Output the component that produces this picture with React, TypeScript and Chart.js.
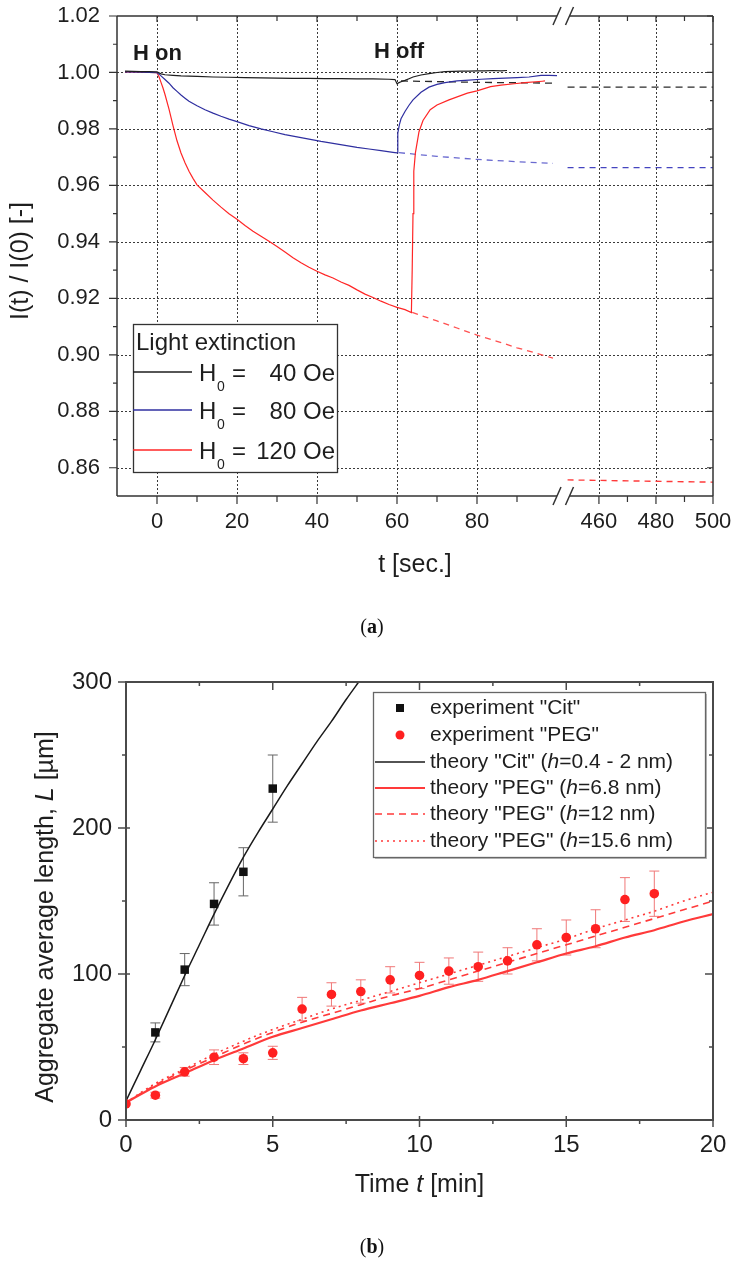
import React, { useEffect, useRef } from "react";
import { Chart, registerables } from "chart.js";

Chart.register(...registerables);

const SANS = '"Liberation Sans", Arial, Helvetica, sans-serif';
const SERIF = '"Liberation Serif", "Times New Roman", serif';

// ================= Panel (a): light extinction =================
const A_Y_TICKS = [0.86, 0.88, 0.9, 0.92, 0.94, 0.96, 0.98, 1.0, 1.02];
const A_Y_MINOR = [0.87, 0.89, 0.91, 0.93, 0.95, 0.97, 0.99, 1.01];
const A_X1_TICKS = [0, 20, 40, 60, 80];
const A_X1_MINOR = [10, 30, 50, 70, 90];
const A_X2_TICKS = [460, 480, 500];
const A_X2_MINOR = [470, 490];
const FIELD_LABELS = ["40 Oe", "80 Oe", "120 Oe"];
const ANNOT_TEXT = ["H on", "H off"];
const ANNOT_T = [-6, 54.25];
const ANNOT_V = [1.0044, 1.0051];

// H0 = 40 Oe (measured)
const H40_T = [-8, -6, -4, -2, 0, 1, 2, 4, 6, 8, 10, 14, 18, 22, 26, 30, 34, 38, 42, 46, 50, 54, 58, 59.5, 60, 60.5, 61, 62, 63, 64, 66, 68, 70, 72, 74, 76, 78, 80, 82, 84, 86, 87.5];
const H40_V = [1.0005, 1.0004, 1.0003, 1.0003, 1.0002, 0.9995, 0.9992, 0.999, 0.9988, 0.9987, 0.9986, 0.9984, 0.9983, 0.9982, 0.9981, 0.998, 0.9979, 0.9979, 0.9978, 0.9978, 0.9977, 0.9977, 0.9976, 0.9975, 0.996, 0.9964, 0.9967, 0.9972, 0.9978, 0.9984, 0.9991, 0.9996, 1.0, 1.0003, 1.0004, 1.0005, 1.0005, 1.0006, 1.0006, 1.0007, 1.0006, 1.0007];
// H0 = 80 Oe (measured)
const H80_T = [-8, -4, 0, 0.5, 1, 2, 3, 4, 5, 6, 7, 8, 10, 12, 14, 16, 18, 20, 23, 26, 29, 32, 35, 38, 41, 44, 47, 50, 53, 56, 59, 60, 60.2, 60.6, 61, 62, 63, 64, 66, 68, 70, 72, 75, 78, 81, 84, 87, 90, 93, 96, 98, 100];
const H80_V = [1.0002, 1.0001, 0.9999, 0.9994, 0.9988, 0.9975, 0.9962, 0.9946, 0.9933, 0.992, 0.9909, 0.9898, 0.9882, 0.9868, 0.9856, 0.9845, 0.9835, 0.9826, 0.9812, 0.98, 0.979, 0.978, 0.9772, 0.9764, 0.9756, 0.9749, 0.9742, 0.9735, 0.9729, 0.9723, 0.9717, 0.9715, 0.9785, 0.9815, 0.9836, 0.9862, 0.9884, 0.9903, 0.993, 0.9948, 0.9958, 0.9964, 0.997, 0.9973, 0.9976, 0.9978, 0.998, 0.9982, 0.9984, 0.999, 0.999, 0.9989];
// H0 = 120 Oe (measured)
const H120_T = [-8, -4, 0, 0.5, 1, 1.5, 2, 3, 4, 5, 6, 7, 8, 9, 10, 12, 14, 16, 18, 20, 22, 24, 26, 28, 30, 32, 34, 36, 38, 40, 42, 44, 46, 48, 50, 52, 54, 56, 58, 60, 62, 63.6, 63.8, 64, 64.2, 64.6, 65.5, 66.5, 68.3, 70, 73, 77.6, 80, 83.4, 86, 89.3, 92, 96.3, 97];
const H120_V = [1.0002, 1.0001, 0.9999, 0.9985, 0.9965, 0.9945, 0.9922, 0.987, 0.9812, 0.9758, 0.9715, 0.968, 0.965, 0.9625, 0.9602, 0.9575, 0.9548, 0.9523, 0.95, 0.948, 0.9458, 0.9438, 0.942, 0.9402, 0.9384, 0.9364, 0.9344, 0.9326, 0.931, 0.9296, 0.9283, 0.9272, 0.9258, 0.9246, 0.923, 0.9215, 0.9203, 0.919, 0.9178, 0.9168, 0.916, 0.915, 0.93, 0.95, 0.965, 0.9715, 0.979, 0.983, 0.9868, 0.9885, 0.9903, 0.9927, 0.9935, 0.995, 0.9955, 0.996, 0.9964, 0.9969, 0.997];
// extrapolated decay without field-off (dashed)
const H40_FIT_T = [61, 80, 100];
const H40_FIT_V = [0.997, 0.9965, 0.9962];
const H80_FIT_T = [60.5, 70, 80, 90, 99];
const H80_FIT_V = [0.9716, 0.9703, 0.9692, 0.9684, 0.9678];
const H120_FIT_T = [63.8, 70, 75, 80, 85, 90, 95, 99];
const H120_FIT_V = [0.915, 0.912, 0.9095, 0.907, 0.9048, 0.9025, 0.9005, 0.8988];
// long-time values (second axis segment)
const LONG_T = [449, 500];
const H40_LONG_V = [0.9948, 0.9948];
const H80_LONG_V = [0.9663, 0.9663];
const H120_LONG_V = [0.8557, 0.8549];

// ================= Panel (b): aggregate length =================
const B_X_TICKS = [0, 5, 10, 15, 20];
const B_X_MINOR = [2.5, 7.5, 12.5, 17.5];
const B_Y_TICKS = [0, 100, 200, 300];
const B_Y_MINOR = [50, 150, 250];

const CIT_T = [1, 2, 3, 4, 5];
const CIT_L = [60, 103, 148, 170, 227];
const CIT_ERR = [6.5, 11, 14.5, 16.5, 23];

const PEG_T = [0, 1, 2, 3, 4, 5, 6, 7, 8, 9, 10, 11, 12, 13, 14, 15, 16, 17, 18];
const PEG_L = [11, 17, 33, 43, 42, 46, 76, 86, 88, 96, 99, 102, 105, 109, 120, 125, 131, 151, 155];
const PEG_ERR = [0, 2, 3, 5, 4, 4.5, 8, 8, 8, 9, 9, 9, 10, 9, 11, 12, 13, 15, 15.5];

const CIT_TH_T = [0, 0.5, 1, 1.5, 2, 2.5, 3, 3.5, 4, 4.5, 5, 5.5, 6, 6.5, 7, 7.5, 8];
const CIT_TH_L = [13, 34, 55, 77, 99, 120, 141, 161, 180, 197, 213, 229, 244, 259, 273, 288, 302];
const PEG_TH_T = [0, 1, 2, 3, 4, 5, 6, 7, 8, 9, 10, 11, 12, 13, 14, 15, 16, 17, 18, 19, 20];
const PEG_TH68 = [12, 23, 32, 41, 49, 57, 63, 69, 75, 80, 85, 91, 96, 102, 108, 114, 119, 125, 130, 136, 141];
const PEG_TH12 = [12, 24, 34, 43, 52, 60, 67, 73, 79, 85, 90, 96, 102, 108, 114, 120, 126, 132, 138, 144, 150];
const PEG_TH156 = [12, 25, 35, 45, 54, 62, 69, 76, 82, 88, 94, 100, 106, 112, 118, 124, 131, 137, 143, 150, 156];

type Run = { t: string; i?: boolean; b?: boolean };
const LEGEND_B: Run[][] = [
  [{ t: 'experiment "Cit"' }],
  [{ t: 'experiment "PEG"' }],
  [{ t: 'theory "Cit" (' }, { t: "h", i: true }, { t: "=0.4 - 2 nm)" }],
  [{ t: 'theory "PEG" (' }, { t: "h", i: true }, { t: "=6.8 nm)" }],
  [{ t: 'theory "PEG" (' }, { t: "h", i: true }, { t: "=12 nm)" }],
  [{ t: 'theory "PEG" (' }, { t: "h", i: true }, { t: "=15.6 nm)" }],
];

const pts = (xs: number[], ys: number[]) => xs.map((x, i) => ({ x, y: ys[i] }));

function runFont(r: Run, size: number, family: string) {
  return `${r.i ? "italic " : ""}${r.b ? "bold " : ""}${size}px ${family}`;
}
function drawRuns(ctx: any, runs: Run[], x: number, y: number, size: number, family: string, align: "left" | "center") {
  let total = 0;
  const widths = runs.map((r) => {
    ctx.font = runFont(r, size, family);
    const w = ctx.measureText(r.t).width;
    total += w;
    return w;
  });
  let cx = align === "center" ? x - total / 2 : x;
  ctx.textAlign = "left";
  runs.forEach((r, k) => {
    ctx.font = runFont(r, size, family);
    ctx.fillText(r.t, cx, y);
    cx += widths[k];
  });
}
function seg(ctx: any, x0: number, y0: number, x1: number, y1: number) {
  ctx.moveTo(x0, y0);
  ctx.lineTo(x1, y1);
}

const tickFont = (size: number) => ({ family: SANS, size });

// ---------------- plugin for panel (a) ----------------
const panelAPlugin = {
  id: "panelA",
  beforeDatasetsDraw(chart: any) {
    const { ctx, chartArea: ca, scales } = chart;
    const { x1, x2, y } = scales;
    ctx.save();
    ctx.strokeStyle = "#3a3a3a";
    ctx.lineWidth = 1;
    ctx.setLineDash([2, 2]);
    ctx.beginPath();
    for (const v of A_X1_TICKS) {
      const p = Math.round(x1.getPixelForValue(v)) + 0.5;
      seg(ctx, p, ca.top, p, ca.bottom);
    }
    for (const v of A_X2_TICKS.slice(0, -1)) {
      const p = Math.round(x2.getPixelForValue(v)) + 0.5;
      seg(ctx, p, ca.top, p, ca.bottom);
    }
    for (const v of A_Y_TICKS.slice(0, -1)) {
      const p = Math.round(y.getPixelForValue(v)) + 0.5;
      seg(ctx, ca.left, p, ca.right, p);
    }
    ctx.stroke();
    ctx.restore();
  },
  afterDatasetsDraw(chart: any) {
    const { ctx, chartArea: ca, scales } = chart;
    const { x1, x2, y } = scales;
    const L = ca.left, R = ca.right, T = ca.top, B = ca.bottom;
    const bx = x1.right;
    ctx.save();
    ctx.setLineDash([]);
    ctx.strokeStyle = "#333";
    ctx.lineWidth = 1.5;
    ctx.beginPath();
    seg(ctx, L, T, bx - 6, T);
    seg(ctx, bx + 7, T, R, T);
    seg(ctx, R, T, R, B);
    seg(ctx, R, B, bx + 7, B);
    seg(ctx, bx - 6, B, L, B);
    seg(ctx, L, B, L, T);
    ctx.stroke();
    // ticks
    ctx.lineWidth = 1.2;
    ctx.beginPath();
    const xt = (sc: any, vals: number[], out: number, inn: number) => {
      for (const v of vals) {
        const p = sc.getPixelForValue(v);
        seg(ctx, p, B, p, B + out);
        seg(ctx, p, T, p, T + inn);
      }
    };
    xt(x1, A_X1_TICKS, 8, 6);
    xt(x1, A_X1_MINOR, 6, 5);
    xt(x2, A_X2_TICKS, 8, 6);
    xt(x2, A_X2_MINOR, 6, 5);
    for (const v of A_Y_TICKS) {
      const p = y.getPixelForValue(v);
      seg(ctx, L - 8, p, L, p);
      seg(ctx, R - 6, p, R, p);
    }
    for (const v of A_Y_MINOR) {
      const p = y.getPixelForValue(v);
      seg(ctx, L - 4, p, L, p);
      seg(ctx, R - 3, p, R, p);
    }
    ctx.stroke();
    // axis break marks
    ctx.lineWidth = 1.5;
    ctx.beginPath();
    for (const yy of [T, B]) {
      seg(ctx, bx - 10, yy + 9, bx - 2, yy - 9);
      seg(ctx, bx + 2.5, yy + 9, bx + 10.5, yy - 9);
    }
    ctx.stroke();

    // annotations
    ctx.fillStyle = "#1a1a1a";
    ctx.textBaseline = "alphabetic";
    ctx.textAlign = "left";
    ctx.font = `bold 22px ${SANS}`;
    ANNOT_TEXT.forEach((txt, k) => {
      ctx.fillText(txt, x1.getPixelForValue(ANNOT_T[k]), y.getPixelForValue(ANNOT_V[k]));
    });

    // legend
    const lx = 133, ly = 324, lw = 204, lh = 148;
    ctx.fillStyle = "#fff";
    ctx.fillRect(lx, ly, lw, lh);
    ctx.strokeStyle = "#333";
    ctx.lineWidth = 1.3;
    ctx.strokeRect(lx + 0.5, ly + 0.5, lw, lh);
    ctx.fillStyle = "#1e1e1e";
    ctx.font = `24px ${SANS}`;
    ctx.fillText("Light extinction", 136, 350);
    const rows = [372, 410, 450];
    for (let i = 0; i < 3; i++) {
      const ds = chart.data.datasets[i];
      ctx.strokeStyle = ds.borderColor;
      ctx.lineWidth = 1.6;
      ctx.beginPath();
      seg(ctx, lx, rows[i], 192, rows[i]);
      ctx.stroke();
      ctx.fillStyle = "#1e1e1e";
      ctx.textAlign = "left";
      ctx.font = `24px ${SANS}`;
      ctx.fillText("H", 199, rows[i] + 9);
      ctx.font = `14px ${SANS}`;
      ctx.fillText("0", 217, rows[i] + 19);
      ctx.font = `24px ${SANS}`;
      ctx.fillText("=", 232, rows[i] + 9);
      ctx.textAlign = "right";
      ctx.fillText(FIELD_LABELS[i], 335, rows[i] + 9);
    }

    // axis titles
    ctx.fillStyle = "#1e1e1e";
    ctx.textAlign = "center";
    ctx.textBaseline = "middle";
    ctx.font = `25px ${SANS}`;
    ctx.fillText("t [sec.]", (L + R) / 2, 565);
    ctx.save();
    ctx.translate(21, 261);
    ctx.rotate(-Math.PI / 2);
    ctx.fillText("I(t) / I(0) [-]", 0, 0);
    ctx.restore();

    // panel label
    ctx.fillStyle = "#111";
    drawRuns(ctx, [{ t: "(" }, { t: "a", b: true }, { t: ")" }], 372, 628, 20, SERIF, "center");
    ctx.restore();
  },
};

// ---------------- plugin for panel (b) ----------------
const panelBPlugin = {
  id: "panelB",
  beforeDatasetsDraw(chart: any) {
    const { ctx, scales } = chart;
    const { x, y } = scales;
    ctx.save();
    ctx.lineWidth = 1;
    const bars = (ts: number[], ls: number[], es: number[], color: string) => {
      ctx.strokeStyle = color;
      ctx.beginPath();
      ts.forEach((t, k) => {
        if (!es[k]) return;
        const px = x.getPixelForValue(t);
        const p0 = y.getPixelForValue(ls[k] + es[k]);
        const p1 = y.getPixelForValue(ls[k] - es[k]);
        seg(ctx, px, p0, px, p1);
        seg(ctx, px - 5, p0, px + 5, p0);
        seg(ctx, px - 5, p1, px + 5, p1);
      });
      ctx.stroke();
    };
    bars(CIT_T, CIT_L, CIT_ERR, "#666");
    bars(PEG_T, PEG_L, PEG_ERR, "#f07878");
    ctx.restore();
  },
  afterDatasetsDraw(chart: any) {
    const { ctx, chartArea: ca, scales } = chart;
    const { x, y } = scales;
    const L = ca.left, R = ca.right, T = ca.top, B = ca.bottom;
    ctx.save();
    ctx.setLineDash([]);
    ctx.strokeStyle = "#4a4a4a";
    ctx.lineWidth = 2;
    ctx.strokeRect(L, T, R - L, B - T);
    ctx.lineWidth = 1.5;
    ctx.beginPath();
    for (const v of B_X_TICKS) {
      const p = x.getPixelForValue(v);
      seg(ctx, p, B - 4, p, B + 7);
      seg(ctx, p, T, p, T + 8);
    }
    for (const v of B_X_MINOR) {
      const p = x.getPixelForValue(v);
      seg(ctx, p, B, p, B + 4);
      seg(ctx, p, T, p, T + 4);
    }
    for (const v of B_Y_TICKS) {
      const p = y.getPixelForValue(v);
      seg(ctx, L - 8, p, L + 4, p);
      seg(ctx, R - 8, p, R, p);
    }
    for (const v of B_Y_MINOR) {
      const p = y.getPixelForValue(v);
      seg(ctx, L - 4, p, L, p);
      seg(ctx, R - 4, p, R, p);
    }
    ctx.stroke();

    // legend
    const lx = 373, ly = 52, lw = 332, lh = 165;
    ctx.fillStyle = "#bdbdbd";
    ctx.fillRect(lx + 2, ly + 2, lw, lh);
    ctx.fillStyle = "#fff";
    ctx.fillRect(lx, ly, lw, lh);
    ctx.strokeStyle = "#666";
    ctx.lineWidth = 1.3;
    ctx.strokeRect(lx + 0.5, ly + 0.5, lw, lh);
    const rows = [68, 95, 122, 148, 174, 201];
    const dss = chart.data.datasets;
    // markers
    ctx.fillStyle = dss[0].backgroundColor;
    ctx.fillRect(400 - 4, rows[0] - 4, 8, 8);
    ctx.fillStyle = dss[1].backgroundColor;
    ctx.beginPath();
    ctx.arc(400, rows[1], 4.5, 0, Math.PI * 2);
    ctx.fill();
    for (let k = 2; k < 6; k++) {
      const ds = dss[k];
      ctx.strokeStyle = ds.borderColor;
      ctx.lineWidth = ds.borderWidth;
      ctx.setLineDash(ds.borderDash || []);
      ctx.beginPath();
      seg(ctx, 375, rows[k], 425, rows[k]);
      ctx.stroke();
    }
    ctx.setLineDash([]);
    ctx.fillStyle = "#1e1e1e";
    ctx.textBaseline = "middle";
    LEGEND_B.forEach((runs, k) => drawRuns(ctx, runs, 430, rows[k], 21, SANS, "left"));

    // axis titles
    drawRuns(ctx, [{ t: "Time " }, { t: "t", i: true }, { t: " [min]" }], (L + R) / 2, 545, 25, SANS, "center");
    ctx.save();
    ctx.translate(46, 277);
    ctx.rotate(-Math.PI / 2);
    drawRuns(ctx, [{ t: "Aggregate average length, " }, { t: "L", i: true }, { t: " [µm]" }], 0, 0, 25, SANS, "center");
    ctx.restore();

    ctx.fillStyle = "#111";
    drawRuns(ctx, [{ t: "(" }, { t: "b", b: true }, { t: ")" }], 372, 608, 20, SERIF, "center");
    ctx.restore();
  },
};

function configA(): any {
  const line = (data: any, color: string, axis: string, dash: number[] = [], width = 1.2) => ({
    data,
    xAxisID: axis,
    yAxisID: "y",
    borderColor: color,
    backgroundColor: color,
    borderWidth: width,
    borderDash: dash,
    pointRadius: 0,
    tension: 0,
    fill: false,
  });
  const c40 = "#1e1e1e", c80 = "#2f2fa0", c120 = "#ff2626";
  return {
    type: "line",
    data: {
      datasets: [
        { label: "H0 = " + FIELD_LABELS[0], ...line(pts(H40_T, H40_V), c40, "x1") },
        { label: "H0 = " + FIELD_LABELS[1], ...line(pts(H80_T, H80_V), c80, "x1") },
        { label: "H0 = " + FIELD_LABELS[2], ...line(pts(H120_T, H120_V), c120, "x1") },
        { label: "fit 40", ...line(pts(H40_FIT_T, H40_FIT_V), "#2a2a2a", "x1", [7, 5], 1.3) },
        { label: "fit 80", ...line(pts(H80_FIT_T, H80_FIT_V), "#6a6ad0", "x1", [6, 5], 1.3) },
        { label: "fit 120", ...line(pts(H120_FIT_T, H120_FIT_V), "#ff5050", "x1", [6, 5], 1.3) },
        { label: "long 40", ...line(pts(LONG_T, H40_LONG_V), "#2a2a2a", "x2", [7, 5], 1.4) },
        { label: "long 80", ...line(pts(LONG_T, H80_LONG_V), "#4444c0", "x2", [6, 5], 1.4) },
        { label: "long 120", ...line(pts(LONG_T, H120_LONG_V), "#ff3a3a", "x2", [6, 5], 1.4) },
      ],
    },
    options: {
      animation: false,
      responsive: false,
      maintainAspectRatio: false,
      events: [],
      layout: { padding: { left: 0, top: 16, right: 19, bottom: 0 } },
      plugins: { legend: { display: false }, tooltip: { enabled: false }, title: { display: false } },
      scales: {
        x1: {
          type: "linear",
          position: "bottom",
          stack: "xb",
          stackWeight: 446,
          min: -10,
          max: 101.5,
          grid: { display: false, drawTicks: false, tickLength: 0 },
          border: { display: false },
          ticks: { font: tickFont(22), color: "#1e1e1e", padding: 13, autoSkip: false, maxRotation: 0, callback: (v: any) => String(v) },
          afterBuildTicks: (s: any) => { s.ticks = A_X1_TICKS.map((v) => ({ value: v })); },
          afterFit: (s: any) => { s.height = 144; s.paddingLeft = 0; s.paddingRight = 0; },
        },
        x2: {
          type: "linear",
          position: "bottom",
          stack: "xb",
          stackWeight: 150,
          min: 447.4,
          max: 500,
          grid: { display: false, drawTicks: false, tickLength: 0 },
          border: { display: false },
          ticks: { font: tickFont(22), color: "#1e1e1e", padding: 13, autoSkip: false, maxRotation: 0, callback: (v: any) => String(v) },
          afterBuildTicks: (s: any) => { s.ticks = A_X2_TICKS.map((v) => ({ value: v })); },
          afterFit: (s: any) => { s.height = 144; s.paddingLeft = 0; s.paddingRight = 0; },
        },
        y: {
          type: "linear",
          position: "left",
          min: 0.85,
          max: 1.02,
          grid: { display: false, drawTicks: false, tickLength: 0 },
          border: { display: false },
          ticks: { font: tickFont(22), color: "#1e1e1e", padding: 17, autoSkip: false, callback: (v: any) => Number(v).toFixed(2) },
          afterBuildTicks: (s: any) => { s.ticks = A_Y_TICKS.map((v) => ({ value: v })); },
          afterFit: (s: any) => { s.width = 117; s.paddingTop = 0; s.paddingBottom = 0; },
        },
      },
    },
    plugins: [panelAPlugin],
  };
}

function configB(): any {
  const red = "#ff2020";
  const theory = (data: any, color: string, width: number, dash: number[]) => ({
    data,
    borderColor: color,
    backgroundColor: color,
    borderWidth: width,
    borderDash: dash,
    pointRadius: 0,
    cubicInterpolationMode: "monotone",
    fill: false,
  });
  return {
    type: "line",
    data: {
      datasets: [
        { label: 'experiment "Cit"', data: pts(CIT_T, CIT_L), showLine: false, pointStyle: "rect", pointRadius: 6, backgroundColor: "#111", borderColor: "#111", borderWidth: 0 },
        { label: 'experiment "PEG"', data: pts(PEG_T, PEG_L), showLine: false, pointStyle: "circle", pointRadius: 4.8, backgroundColor: red, borderColor: red, borderWidth: 0 },
        { label: 'theory "Cit" (h=0.4 - 2 nm)', ...theory(pts(CIT_TH_T, CIT_TH_L), "#1a1a1a", 1.5, []) },
        { label: 'theory "PEG" (h=6.8 nm)', ...theory(pts(PEG_TH_T, PEG_TH68), "#ff3a3a", 2.2, []) },
        { label: 'theory "PEG" (h=12 nm)', ...theory(pts(PEG_TH_T, PEG_TH12), "#ff3a3a", 1.6, [7, 5]) },
        { label: 'theory "PEG" (h=15.6 nm)', ...theory(pts(PEG_TH_T, PEG_TH156), "#ff3a3a", 1.6, [2, 4]) },
      ],
    },
    options: {
      animation: false,
      responsive: false,
      maintainAspectRatio: false,
      events: [],
      layout: { padding: { left: 0, top: 42, right: 19, bottom: 0 } },
      plugins: { legend: { display: false }, tooltip: { enabled: false }, title: { display: false } },
      scales: {
        x: {
          type: "linear",
          position: "bottom",
          min: 0,
          max: 20,
          grid: { display: false, drawTicks: false, tickLength: 0 },
          border: { display: false },
          ticks: { font: tickFont(24), color: "#1e1e1e", padding: 11, autoSkip: false, maxRotation: 0, callback: (v: any) => String(v) },
          afterBuildTicks: (s: any) => { s.ticks = B_X_TICKS.map((v) => ({ value: v })); },
          afterFit: (s: any) => { s.height = 145; s.paddingLeft = 0; s.paddingRight = 0; },
        },
        y: {
          type: "linear",
          position: "left",
          min: 0,
          max: 300,
          grid: { display: false, drawTicks: false, tickLength: 0 },
          border: { display: false },
          ticks: { font: tickFont(24), color: "#1e1e1e", padding: 14, autoSkip: false, callback: (v: any) => String(v) },
          afterBuildTicks: (s: any) => { s.ticks = B_Y_TICKS.map((v) => ({ value: v })); },
          afterFit: (s: any) => { s.width = 126; s.paddingTop = 0; s.paddingBottom = 0; },
        },
      },
    },
    plugins: [panelBPlugin],
  };
}

export default function App() {
  const refA = useRef<HTMLCanvasElement>(null);
  const refB = useRef<HTMLCanvasElement>(null);
  useEffect(() => {
    const a = new Chart(refA.current as HTMLCanvasElement, configA());
    const b = new Chart(refB.current as HTMLCanvasElement, configB());
    return () => {
      a.destroy();
      b.destroy();
    };
  }, []);
  return (
    <div style={{ position: "absolute", left: 0, top: 0, width: 732, height: 1265, background: "#fff", overflow: "hidden" }}>
      <canvas ref={refA} width={732} height={640} style={{ position: "absolute", left: 0, top: 0, width: 732, height: 640 }} />
      <canvas ref={refB} width={732} height={625} style={{ position: "absolute", left: 0, top: 640, width: 732, height: 625 }} />
    </div>
  );
}
